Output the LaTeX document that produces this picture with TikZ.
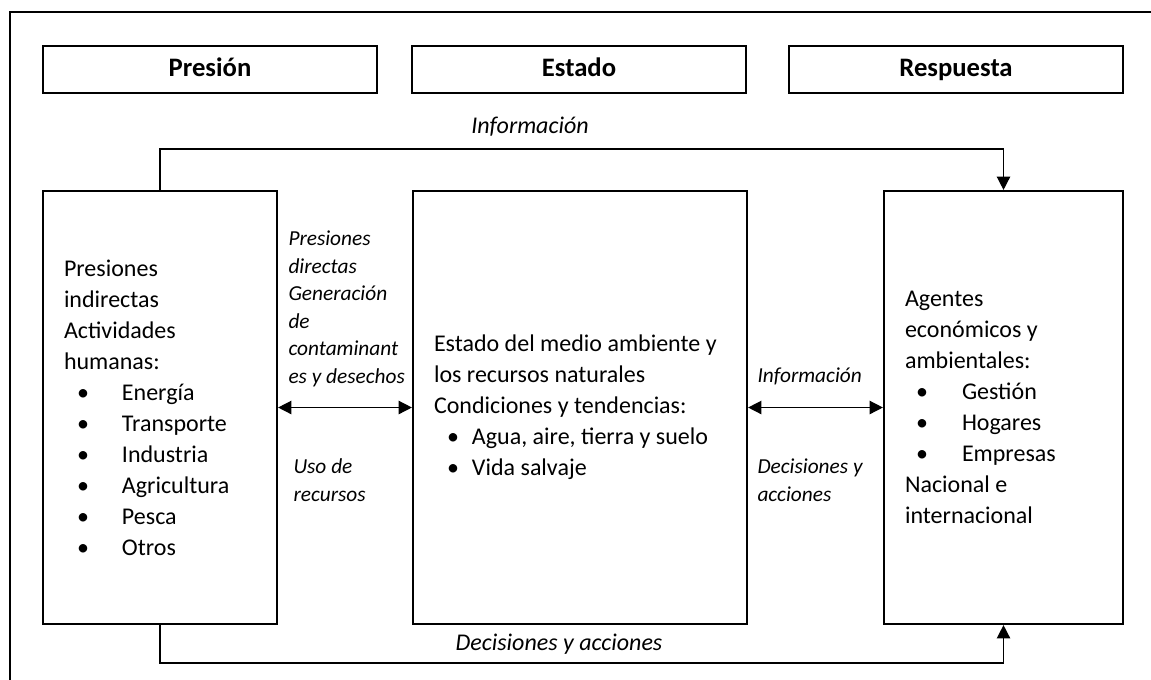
\documentclass[tikz,border=0pt]{standalone}
\usepackage{fontspec}
\setmainfont{Carlito}
\usetikzlibrary{arrows.meta}

\tikzset{every picture/.style={line width=0.75pt}}
\tikzset{
  hdrbox/.style={draw, line width=1.6pt, minimum width=250.5pt, minimum height=35.25pt, inner sep=0pt, text height=14pt, text depth=4pt, font=\fontsize{20}{24}\selectfont\bfseries},
  mainbox/.style={draw, line width=1.6pt, minimum height=324.75pt, inner xsep=15.75pt, inner ysep=0pt, align=flush left, font=\fontsize{18}{23.25}\selectfont},
  sidelbl/.style={inner sep=0pt, align=flush left, font=\fontsize{16}{20.6}\selectfont\itshape},
  flowlbl/.style={inner sep=0pt, font=\fontsize{18}{22}\selectfont\itshape},
  link/.style={line width=1.1pt},
  arrowhd/.style={-{Triangle[length=10pt,width=10pt]}},
  twohd/.style={{Triangle[length=10pt,width=10pt]}-{Triangle[length=10pt,width=10pt]}}
}
% bullet line: indent, gap, text
\newcommand{\bitem}[3]{\hspace*{#1}\makebox[#2][l]{\textbullet}#3}

\begin{document}
\begin{tikzpicture}[x=0.75pt,y=0.75pt,yscale=-1,xscale=1]
\useasboundingbox (0,0) rectangle (1151,679);

%Shape: Frame
\draw [line width=2pt] (10,700) -- (10,12) -- (1170,12) ;

%Shape: Rectangle (headers)
\node [hdrbox] (hpres) at (210,69.5) {Presión};
\node [hdrbox] (hest) at (579,69.5) {Estado};
\node [hdrbox] (hresp) at (956,69.5) {Respuesta};

%Shape: Rectangle (left)
\node [mainbox, text width=144pt] (pres) at (160,407.5) {Presiones\\indirectas\\Actividades\\humanas:\\
  \bitem{9.75pt}{33.75pt}{Energía}\\
  \bitem{9.75pt}{33.75pt}{Transporte}\\
  \bitem{9.75pt}{33.75pt}{Industria}\\
  \bitem{9.75pt}{33.75pt}{Agricultura}\\
  \bitem{9.75pt}{33.75pt}{Pesca}\\
  \bitem{9.75pt}{33.75pt}{Otros}};
%Shape: Rectangle (middle)
\node [mainbox, text width=219pt] (est) at (580,407.5) {\mbox{Estado del medio ambiente y}\\los recursos naturales\\Condiciones y tendencias:\\
  \bitem{9.75pt}{18.75pt}{Agua, aire, tierra y suelo}\\
  \bitem{9.75pt}{18.75pt}{Vida salvaje}};
%Shape: Rectangle (right)
\node [mainbox, text width=147.75pt] (resp) at (1003.5,407.5) {Agentes\\económicos y\\ambientales:\\
  \bitem{8.25pt}{34.5pt}{Gestión}\\
  \bitem{8.25pt}{34.5pt}{Hogares}\\
  \bitem{8.25pt}{34.5pt}{Empresas}\\
  Nacional e\\internacional};

\coordinate (infoy) at (0,149);
\coordinate (decy) at (0,663);

%Straight Lines
\draw [link, arrowhd] (pres.north) -- (pres.north |- infoy) -- (resp.north |- infoy) -- (resp.north) ;
\draw [link, arrowhd] (pres.south) -- (pres.south |- decy) -- (resp.south |- decy) -- (resp.south) ;
\draw [link, twohd] (pres.east) -- (est.west) ;
\draw [link, twohd] (est.east) -- (resp.west) ;

% Text Node
\node [flowlbl] (infotop) at (530,127) {Información};
% Text Node
\node [flowlbl] (decbot) at (559,644) {Decisiones y acciones};
% Text Node
\node [sidelbl, anchor=west] (lpres) at (288,309) {Presiones\\directas\\Generación\\de\\contaminant\\es y desechos};
% Text Node
\node [sidelbl, anchor=west] (luso) at (293,480) {Uso de\\recursos};
% Text Node
\node [sidelbl, anchor=west] (rinfo) at (757,376) {Información};
% Text Node
\node [sidelbl, anchor=west] (rdec) at (757,480) {Decisiones y\\acciones};

\end{tikzpicture}
\end{document}
